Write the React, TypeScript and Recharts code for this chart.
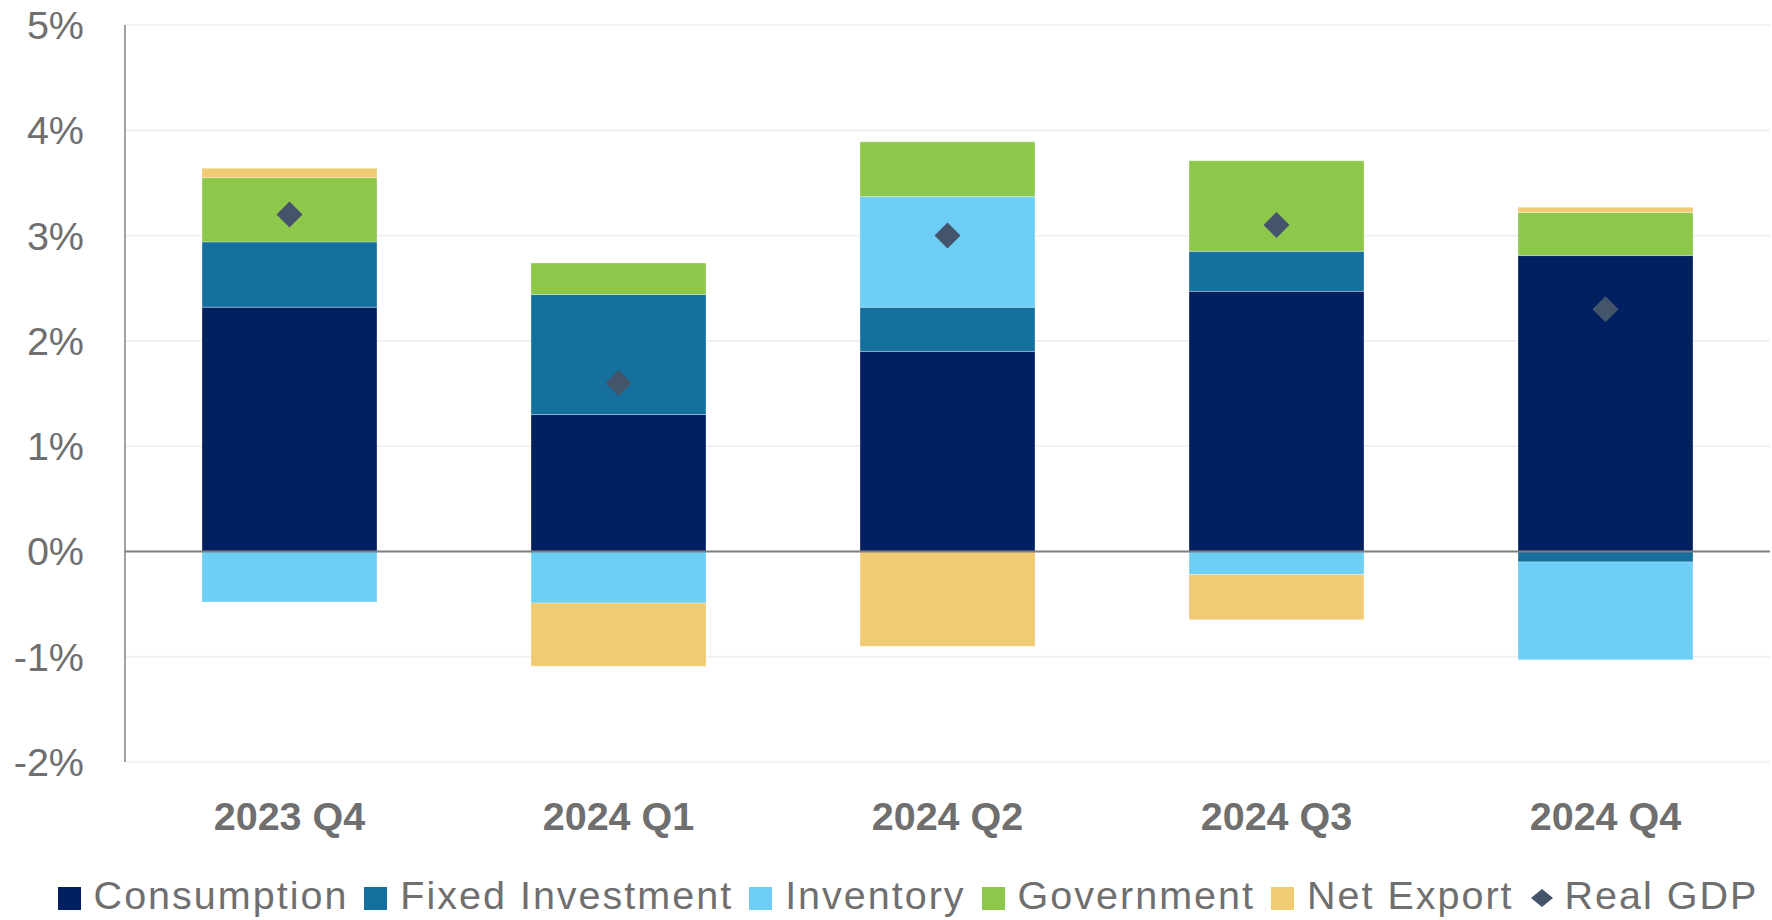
import React from 'react';
import {
  ComposedChart,
  Bar,
  Line,
  XAxis,
  YAxis,
  CartesianGrid,
  ReferenceLine,
  Legend,
} from 'recharts';

const categories = ['2023 Q4', '2024 Q1', '2024 Q2', '2024 Q3', '2024 Q4'];
const consumption = [2.32, 1.3, 1.9, 2.47, 2.81];
const fixedInvestment = [0.62, 1.14, 0.42, 0.38, -0.1];
const inventory = [-0.48, -0.49, 1.05, -0.22, -0.93];
const government = [0.61, 0.3, 0.52, 0.86, 0.41];
const netExport = [0.09, -0.6, -0.9, -0.43, 0.05];
const realGdp = [3.2, 1.6, 3.0, 3.1, 2.3];
const yTicks = [-2, -1, 0, 1, 2, 3, 4, 5];

const seriesNames = ['Consumption', 'Fixed Investment', 'Inventory', 'Government', 'Net Export', 'Real GDP'];
const seriesColors = ['#002060', '#16709d', '#6dcff6', '#8dc84b', '#f0cb74', '#44546a'];

const data = categories.map((c, i) => ({
  name: c,
  consumption: consumption[i],
  fixedInvestment: fixedInvestment[i],
  inventory: inventory[i],
  government: government[i],
  netExport: netExport[i],
  realGdp: realGdp[i],
}));

const TEXT = '#6f6f6f';

const Diamond = (props: any) => {
  const { cx, cy } = props;
  if (cx == null || cy == null) return null;
  const r = 13;
  return (
    <polygon
      points={`${cx},${cy - r} ${cx + r},${cy} ${cx},${cy + r} ${cx - r},${cy}`}
      fill="#44546a"
    />
  );
};

const LegendContent = () => (
  <div
    style={{
      display: 'flex',
      justifyContent: 'center',
      alignItems: 'center',
      height: 50,
      fontFamily: '"Liberation Sans", Arial, sans-serif',
      fontSize: 39.5,
      letterSpacing: 2.0,
      color: TEXT,
      whiteSpace: 'nowrap',
      paddingLeft: 46,
    }}
  >
    {seriesNames.map((n, i) => (
      <div key={n} style={{ display: 'flex', alignItems: 'center', marginRight: i < seriesNames.length - 1 ? 16 : 0 }}>
        {i < 5 ? (
          <div style={{ width: 23, height: 23, background: seriesColors[i], marginRight: 13, marginTop: 6 }} />
        ) : (
          <svg width={24} height={20} style={{ marginRight: 11, marginTop: 6 }}>
            <polygon points="12,1 23,10 12,19 1,10" fill={seriesColors[i]} />
          </svg>
        )}
        <span>{n}</span>
      </div>
    ))}
  </div>
);

export default function App() {
  return (
    <div style={{ position: 'absolute', left: 0, top: 0, background: '#fff' }}>
      <ComposedChart
        width={1772}
        height={920}
        data={data}
        stackOffset="sign"
        margin={{ top: 25, right: 2, bottom: 0, left: 0 }}
      >
        <CartesianGrid vertical={false} stroke="#efefef" strokeWidth={1.7} />
        <XAxis
          dataKey="name"
          axisLine={false}
          tickLine={false}
          tickSize={0}
          tickMargin={40}
          height={108}
          tick={{ fill: TEXT, fontSize: 39.5, fontWeight: 700, fontFamily: '"Liberation Sans", Arial, sans-serif' }}
        />
        <YAxis
          domain={[-2, 5]}
          ticks={yTicks}
          interval={0}
          width={125}
          tickFormatter={(v: number) => `${v}%`}
          axisLine={{ stroke: '#808080', strokeWidth: 1.5 }}
          tickLine={false}
          tickSize={0}
          tickMargin={41}
          tick={{ fill: TEXT, fontSize: 39.5, fontFamily: '"Liberation Sans", Arial, sans-serif' }}
        />
        <Legend verticalAlign="bottom" height={50} content={<LegendContent />} />
        <Bar dataKey="consumption" name="Consumption" stackId="a" fill={seriesColors[0]} barSize={175} isAnimationActive={false} stroke="#ffffff" strokeWidth={0.6} strokeOpacity={0.5} />
        <Bar dataKey="fixedInvestment" name="Fixed Investment" stackId="a" fill={seriesColors[1]} barSize={175} isAnimationActive={false} stroke="#ffffff" strokeWidth={0.6} strokeOpacity={0.5} />
        <Bar dataKey="inventory" name="Inventory" stackId="a" fill={seriesColors[2]} barSize={175} isAnimationActive={false} stroke="#ffffff" strokeWidth={0.6} strokeOpacity={0.5} />
        <Bar dataKey="government" name="Government" stackId="a" fill={seriesColors[3]} barSize={175} isAnimationActive={false} stroke="#ffffff" strokeWidth={0.6} strokeOpacity={0.5} />
        <Bar dataKey="netExport" name="Net Export" stackId="a" fill={seriesColors[4]} barSize={175} isAnimationActive={false} stroke="#ffffff" strokeWidth={0.6} strokeOpacity={0.5} />
        <ReferenceLine y={0} stroke="#7f7f7f" strokeWidth={2} />
        <Line
          dataKey="realGdp"
          name="Real GDP"
          stroke="none"
          dot={<Diamond />}
          activeDot={false}
          legendType="diamond"
          isAnimationActive={false}
        />
      </ComposedChart>
    </div>
  );
}
